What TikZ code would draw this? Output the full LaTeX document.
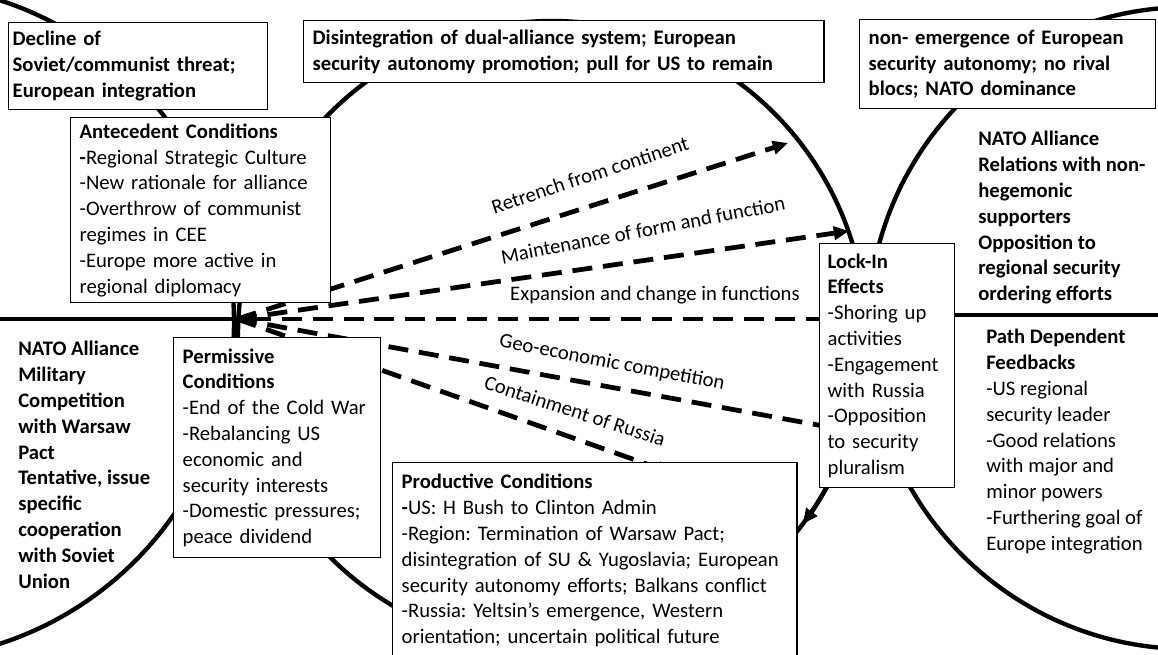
\documentclass[tikz,border=0pt]{standalone}
\usepackage{fontspec}
\setmainfont{Carlito}
\usetikzlibrary{arrows.meta}

\tikzset{
	>={Triangle[length=0.38cm, width=0.33cm]},
	ring/.style={line width=3.1pt},
	pathline/.style={line width=3.4pt, dash pattern=on 0.5cm off 0.27cm},
	condbox/.style={draw, fill=white, line width=1pt, anchor=north west, align=left, inner xsep=0.225cm, inner ysep=0.12cm},
	boldtext/.style={anchor=north west, align=left, inner sep=0pt, font=\bfseries},
	sidetext/.style={anchor=north west, align=left, inner sep=0pt},
	pathlabel/.style={inner sep=0pt}
}

\begin{document}
\fontsize{14.7pt}{18.35pt}\selectfont
\frenchspacing
\begin{tikzpicture}[x=0.025cm, y=-0.025cm]
	\useasboundingbox (0,0) rectangle (1158,654);

	%centres and radii of the three phases (pixel grid, y downwards)
	\coordinate (L) at (-104,322);
	\coordinate (M) at (552,335);
	\coordinate (R) at (1189,328);
	\def\rL{338};
	\def\rM{314};
	\def\rR{321};

	%points where the phases meet
	\coordinate (J) at (237,319);
	\coordinate (K) at (866,315);

	%the three phases
	\draw [ring] (L) circle [radius=\rL];
	\draw [ring] (M) circle [radius=\rM];
	\draw [ring] (R) circle [radius=\rR];
	\draw [ring] (L |- J) -- (J);
	\draw [ring] (K) -- (K -| R);

	%end points of the options
	\coordinate (retrenchend) at (788,143);
	\coordinate (maintainend) at (849,231);
	\coordinate (expandend) at (840,319);
	\coordinate (geoend) at (840,429);
	\coordinate (containend) at (672,473);

	%options out of the juncture
	\draw [pathline, ->] (J) -- (retrenchend);
	\draw [pathline, ->] (J) -- (maintainend);
	\draw [pathline, <-] (J) -- (expandend);
	\draw [pathline] (J) -- (geoend);
	\draw [pathline, ->] (J) -- (containend);
	\draw [ring, ->] (M) ++(28:\rM) arc [start angle=28, end angle=37, radius=\rM];

	%boxes
	\node [condbox, font=\bfseries, inner xsep=0.1cm, text width=6.275cm, minimum height=2.175cm] (decline) at (8,22) {Decline of\\Soviet/communist threat;\\European integration};
	\node [condbox, font=\bfseries, text width=12.55cm, minimum height=1.55cm] (disintegration) at (303,20) {Disintegration of dual-alliance system; European\\security autonomy promotion; pull for US to remain};
	\node [condbox, font=\bfseries, text width=6.95cm, minimum height=2.225cm] (dominance) at (859,19) {non- emergence of European\\security autonomy; no rival\\blocs; NATO dominance};
	\node [condbox, text width=6.05cm, minimum height=4.625cm] (antecedent) at (70,117) {\textbf{Antecedent Conditions}\\\textbf{-}Regional Strategic Culture\\-New rationale for alliance\\-Overthrow of communist\\regimes in CEE\\-Europe more active in\\regional diplomacy};
	\node [condbox, text width=4.725cm, minimum height=5.5cm] (permissive) at (173,337) {\textbf{Permissive}\\\textbf{Conditions}\\-End of the Cold War\\-Rebalancing US\\economic and\\security interests\\-Domestic pressures;\\peace dividend};
	\node [condbox, text width=9.65cm, minimum height=4.9cm] (productive) at (392,462) {\textbf{Productive Conditions}\\\textbf{-}US: H Bush to Clinton Admin\\-Region: Termination of Warsaw Pact;\\disintegration of SU \& Yugoslavia; European\\security autonomy efforts; Balkans conflict\\-Russia: Yeltsin’s emergence, Western\\orientation; uncertain political future};
	\node [condbox, inner xsep=0.2cm, text width=2.975cm, minimum height=6.1cm] (lockin) at (819,243) {\textbf{Lock-In}\\\textbf{Effects}\\-Shoring up\\activities\\-Engagement\\with Russia\\-Opposition\\to security\\pluralism};

	%texts inside the phases
	\node [boldtext] (militarytext) at (18,341) {NATO Alliance\\Military\\Competition\\with Warsaw\\Pact\\Tentative, issue\\specific\\cooperation\\with Soviet\\Union};
	\node [boldtext] (relationstext) at (978,131) {NATO Alliance\\Relations with non-\\hegemonic\\supporters\\Opposition to\\regional security\\ordering efforts};
	\node [sidetext] (feedbacktext) at (986,329) {\textbf{Path Dependent}\\\textbf{Feedbacks}\\-US regional\\security leader\\-Good relations\\with major and\\minor powers\\-Furthering goal of\\Europe integration};

	%labels of the options
	\node [pathlabel, rotate=18.3] (retrenchlabel) at (590,175) {Retrench from continent};
	\node [pathlabel, rotate=10.8] (maintainlabel) at (643,230) {Maintenance of form and function};
	\node [pathlabel] (expandlabel) at (655,295) {Expansion and change in functions};
	\node [pathlabel, rotate=-10.8] (geolabel) at (612,363) {Geo-economic competition};
	\node [pathlabel, rotate=-18] (containlabel) at (575,411) {Containment of Russia};
\end{tikzpicture}
\end{document}
